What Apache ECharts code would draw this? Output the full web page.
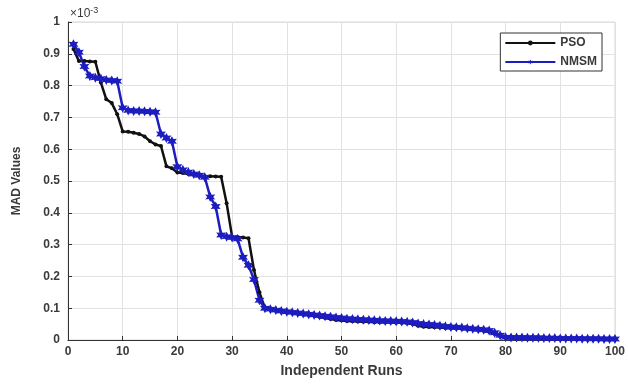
<!DOCTYPE html>
<html><head><meta charset="utf-8">
<script src="https://cdn.jsdelivr.net/npm/echarts@6/dist/echarts.min.js"></script>
<style>html,body{margin:0;padding:0;background:#fff}#c{width:628px;height:384px}</style>
</head><body><div id="c"></div>
<script>
// values in units of 1e-3
const runs = Array.from({length:100},(_, i)=>i+1);
const psoValues = [
0.915,0.877,0.877,0.876,0.875,0.81,0.757,0.745,0.71,0.656,
0.655,0.652,0.648,0.64,0.625,0.615,0.61,0.546,0.54,0.527,
0.525,0.522,0.52,0.516,0.515,0.515,0.514,0.513,0.43,0.325,
0.324,0.322,0.32,0.22,0.15,0.10,0.095,0.092,0.09,0.088,
0.086,0.084,0.082,0.079,0.076,0.072,0.069,0.066,0.063,0.061,
0.06,0.059,0.058,0.057,0.057,0.056,0.056,0.055,0.055,0.054,
0.054,0.053,0.05,0.045,0.042,0.041,0.04,0.039,0.038,0.037,
0.036,0.035,0.034,0.033,0.031,0.029,0.026,0.02,0.012,0.007,
0.007,0.007,0.006,0.006,0.006,0.005,0.005,0.005,0.005,0.004,
0.004,0.004,0.004,0.003,0.003,0.003,0.003,0.002,0.002,0.002
];
const nmsmValues = [
0.93,0.905,0.86,0.83,0.825,0.822,0.818,0.816,0.814,0.73,
0.722,0.72,0.72,0.719,0.718,0.716,0.648,0.635,0.625,0.545,
0.535,0.528,0.522,0.518,0.512,0.45,0.42,0.33,0.325,0.322,
0.318,0.26,0.235,0.19,0.125,0.10,0.097,0.094,0.091,0.089,
0.087,0.085,0.083,0.081,0.079,0.077,0.075,0.073,0.071,0.069,
0.067,0.066,0.065,0.064,0.063,0.062,0.061,0.06,0.06,0.059,
0.058,0.057,0.055,0.052,0.05,0.049,0.047,0.045,0.043,0.041,
0.04,0.039,0.037,0.035,0.034,0.032,0.03,0.023,0.015,0.009,
0.008,0.008,0.008,0.007,0.007,0.007,0.006,0.006,0.006,0.005,
0.005,0.005,0.005,0.004,0.004,0.004,0.004,0.003,0.003,0.003
];
const seriesNames = ['PSO','NMSM'];
const xLabel = 'Independent Runs';
const yLabel = 'MAD Values';

const chart = echarts.init(document.getElementById('c'), null, {renderer:'canvas'});
const txt = '#3a3a3a';
const font = 'Liberation Sans';
const star = 'path://M0,-5L1.3,-2.2L4.3,-2.5L2.6,0L4.3,2.5L1.3,2.2L0,5L-1.3,2.2L-4.3,2.5L-2.6,0L-4.3,-2.5L-1.3,-2.2Z';
chart.setOption({
  animation:false,
  backgroundColor:'#fff',
  textStyle:{fontFamily:font},
  grid:{left:68,right:13,top:22,bottom:44,show:true,borderColor:'#d8d8d8',borderWidth:1,containLabel:false},
  legend:{
    right:26,top:33,orient:'vertical',
    backgroundColor:'#fff',borderColor:'#333',borderWidth:1,padding:[4,5,3,4],
    itemWidth:50,itemHeight:6,itemGap:7,
    textStyle:{fontFamily:font,fontWeight:'bold',fontSize:12,color:txt},
    data:seriesNames
  },
  xAxis:{
    type:'value',min:0,max:100,interval:10,
    name:xLabel,nameLocation:'middle',nameGap:24,
    nameTextStyle:{fontFamily:font,fontWeight:'bold',fontSize:14,color:txt},
    axisLine:{show:true,onZero:false,lineStyle:{color:'#333',width:1}},
    axisTick:{show:true,inside:true,length:4,lineStyle:{color:'#333'}},
    axisLabel:{fontFamily:font,fontWeight:'bold',fontSize:12,color:txt,margin:6},
    splitLine:{show:true,lineStyle:{color:'#e2e2e2',width:1}}
  },
  yAxis:{
    type:'value',min:0,max:1,interval:0.1,
    name:yLabel,nameLocation:'middle',nameGap:45,
    nameTextStyle:{fontFamily:font,fontWeight:'bold',fontSize:12,color:txt},
    axisLine:{show:true,lineStyle:{color:'#333',width:1}},
    axisTick:{show:true,inside:true,length:4,lineStyle:{color:'#333'}},
    axisLabel:{fontFamily:font,fontWeight:'bold',fontSize:12,color:txt,margin:8,
      formatter:v=>{const r=Math.round(v*10)/10; return (r===0||r===1)?String(r):r.toFixed(1);}},
    splitLine:{show:true,lineStyle:{color:'#e2e2e2',width:1}}
  },
  graphic:[{
    type:'text',left:70,top:6,
    style:{text:'{a|×10}{b|-3}',rich:{a:{fontFamily:font,fontSize:12,fill:txt},b:{fontFamily:font,fontSize:9,fill:txt,verticalAlign:'top',padding:[0,0,7,0]}}}
  }],
  series:[
    {name:seriesNames[0],type:'line',data:runs.map((r,i)=>[r,psoValues[i]]),
     symbol:'circle',symbolSize:4,showSymbol:true,
     lineStyle:{color:'#111',width:2.5},itemStyle:{color:'#111'}},
    {name:seriesNames[1],type:'line',data:runs.map((r,i)=>[r,nmsmValues[i]]),
     symbol:star,symbolSize:10,showSymbol:true,
     lineStyle:{color:'#1c1cc0',width:2.5},itemStyle:{color:'#1c1cc0'}}
  ]
});
</script></body></html>
